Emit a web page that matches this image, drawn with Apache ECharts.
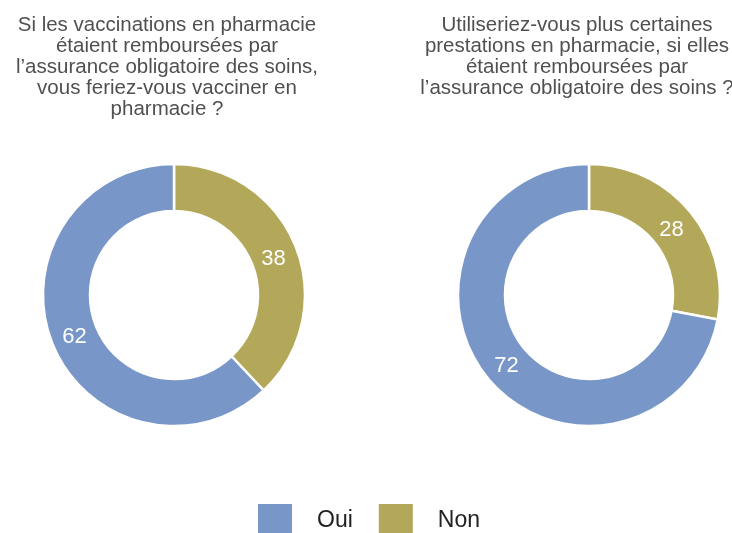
<!DOCTYPE html>
<html>
<head>
<meta charset="utf-8">
<script src="https://cdn.jsdelivr.net/npm/echarts@6/dist/echarts.min.js"></script>
<style>
  html, body { margin: 0; padding: 0; background: #fff; }
  #chart { width: 732px; height: 533px; }
</style>
</head>
<body>
<div id="chart"></div>
<script>
// answers shared by both donuts
const categories = ['Oui', 'Non'];
const colors = ['#7897c8', '#b3a859'];

// left: vaccination en pharmacie
const vaccinValues = [62, 38];
const vaccinTitle = 'Si les vaccinations en pharmacie\nétaient remboursées par\nl’assurance obligatoire des soins,\nvous feriez-vous vacciner en\npharmacie ?';

// right: prestations en pharmacie
const prestationValues = [72, 28];
const prestationTitle = 'Utiliseriez-vous plus certaines\nprestations en pharmacie, si elles\nétaient remboursées par\nl’assurance obligatoire des soins ?';

const font = '"Liberation Sans", Arial, Helvetica, sans-serif';

function toData(values, fill) {
    // slices drawn with Non first (clockwise from top), Oui second
    return [
        { name: categories[1], value: values[1], itemStyle: { color: fill || colors[1] } },
        { name: categories[0], value: values[0], itemStyle: { color: fill || colors[0] } }
    ];
}

// the ring itself
function donut(center, values) {
    return {
        type: 'pie',
        center: center,
        radius: [84, 131],
        startAngle: 90,
        silent: true,
        data: toData(values),
        itemStyle: { borderColor: '#fff', borderWidth: 2.5 },
        label: { show: false },
        labelLine: { show: false },
        emphasis: { disabled: true }
    };
}

// see-through ring that only carries the value labels, a bit nearer the centre
function labels(center, values) {
    return {
        type: 'pie',
        center: center,
        radius: [80, 128],
        startAngle: 90,
        silent: true,
        legendHoverLink: false,
        z: 3,
        data: toData(values, 'rgba(0,0,0,0)'),
        label: {
            show: true,
            position: 'inside',
            formatter: '{c}',
            color: '#fff',
            fontSize: 22,
            fontFamily: font,
            offset: [0, 3]
        },
        labelLine: { show: false },
        emphasis: { disabled: true }
    };
}

const titleStyle = {
    color: '#505050',
    fontSize: 20.5,
    fontWeight: 'normal',
    lineHeight: 21,
    fontFamily: font
};

const chart = echarts.init(document.getElementById('chart'));
chart.setOption({
    backgroundColor: '#fff',
    animation: false,
    title: [
        { text: vaccinTitle, left: 162, top: 10, textAlign: 'center', textStyle: titleStyle },
        { text: prestationTitle, left: 572, top: 10, textAlign: 'center', textStyle: titleStyle }
    ],
    legend: {
        data: categories.map((name, i) => ({ name: name, itemStyle: { color: colors[i] } })),
        left: 251,
        top: 497,
        icon: 'rect',
        itemWidth: 36,
        itemHeight: 36,
        itemGap: 24,
        textStyle: {
            color: '#222',
            fontSize: 23,
            fontFamily: font,
            padding: [0, 0, 0, 19]
        }
    },
    series: [
        donut([174, 295], vaccinValues),
        donut([589, 295], prestationValues),
        labels([174, 295], vaccinValues),
        labels([589, 295], prestationValues)
    ]
});
</script>
</body>
</html>
